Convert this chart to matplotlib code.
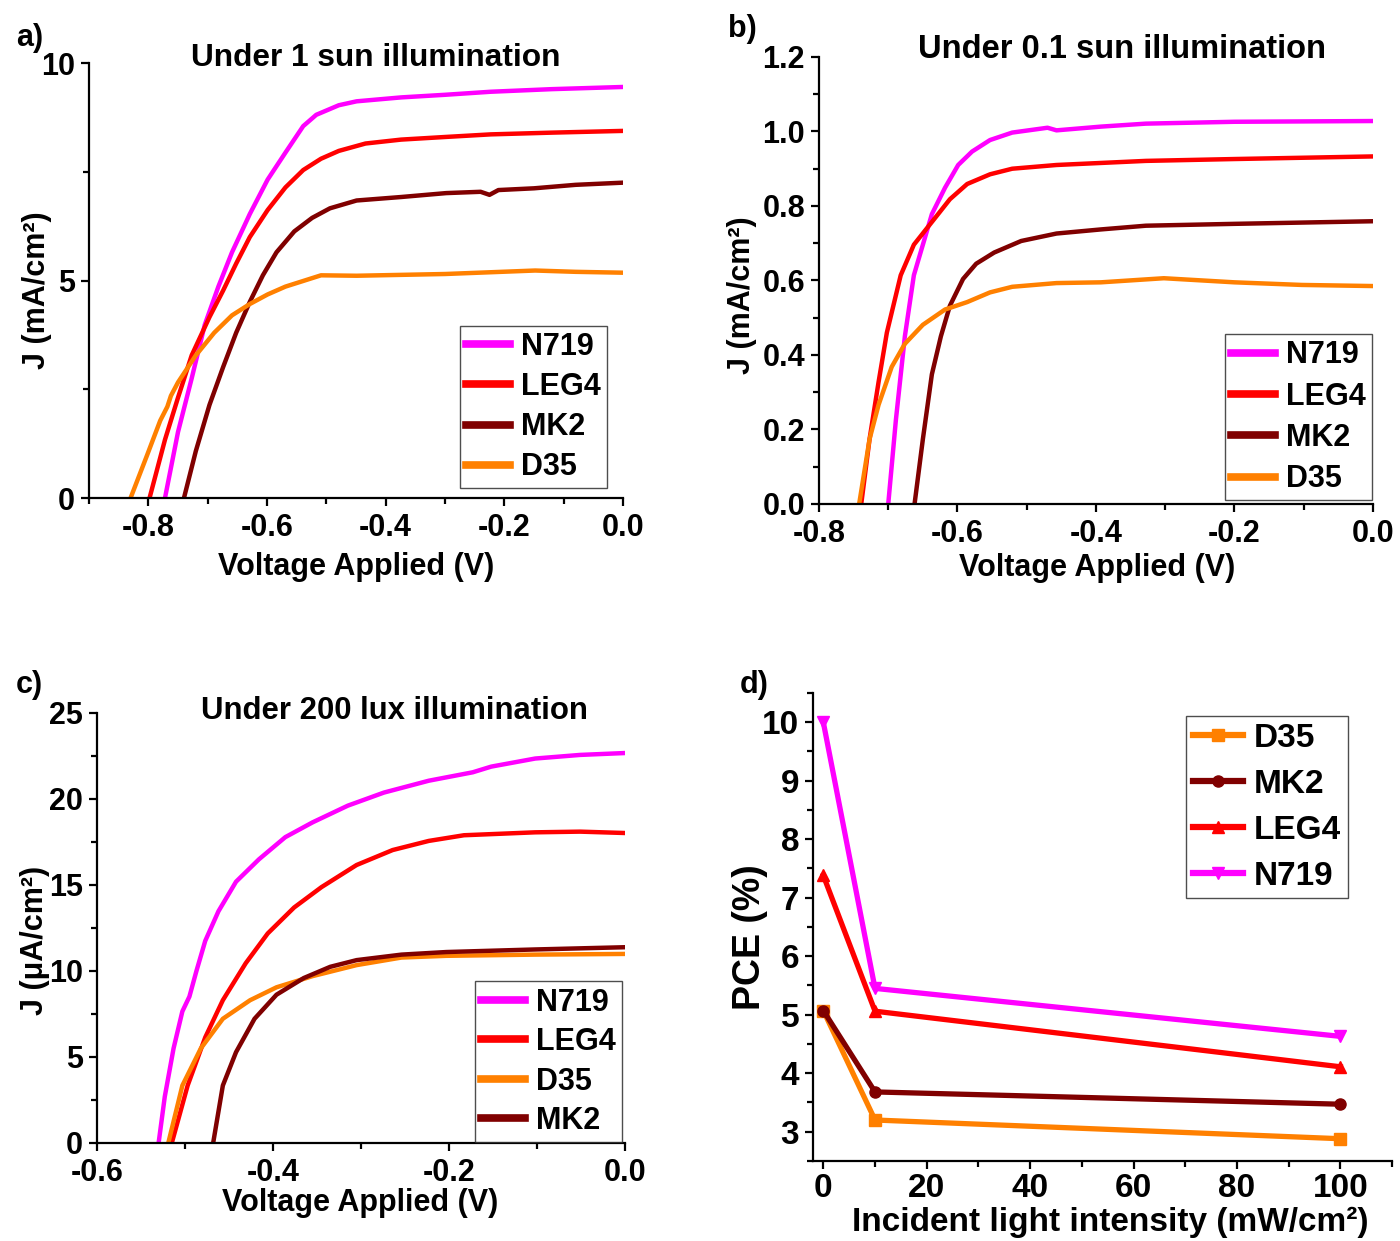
import matplotlib
matplotlib.use("Agg")
import matplotlib.pyplot as plt
from matplotlib.ticker import MultipleLocator

plt.rcParams['font.family'] = ['Liberation Sans', 'DejaVu Sans']
plt.rcParams['font.weight'] = 'bold'
plt.rcParams['axes.unicode_minus'] = False
plt.rcParams['mathtext.default'] = 'bf'

MAGENTA = '#FF00FF'
RED = '#FF0000'
MAROON = '#800000'
ORANGE = '#FF8000'

# ---- a) 1 sun, J in mA/cm2 ----
a_n719_v = [-0.772, -0.750, -0.727, -0.705, -0.682, -0.659, -0.629, -0.599, -0.569, -0.539,
            -0.517, -0.479, -0.449, -0.374, -0.300, -0.223, -0.120, 0.0]
a_n719_j = [0.0, 1.52, 2.75, 3.98, 4.86, 5.65, 6.53, 7.32, 7.94, 8.55,
            8.81, 9.03, 9.12, 9.21, 9.27, 9.34, 9.40, 9.45]
a_leg4_v = [-0.798, -0.772, -0.750, -0.727, -0.697, -0.674, -0.652, -0.629, -0.599, -0.569,
            -0.539, -0.509, -0.479, -0.434, -0.374, -0.300, -0.223, -0.120, 0.0]
a_leg4_j = [0.0, 1.34, 2.31, 3.28, 4.16, 4.77, 5.39, 6.00, 6.62, 7.14,
            7.54, 7.80, 7.98, 8.15, 8.24, 8.30, 8.36, 8.40, 8.44]
a_mk2_v = [-0.740, -0.720, -0.697, -0.674, -0.652, -0.629, -0.607, -0.584, -0.554, -0.524,
           -0.494, -0.449, -0.374, -0.298, -0.240, -0.225, -0.210, -0.150, -0.080, 0.0]
a_mk2_j = [0.0, 1.08, 2.14, 3.01, 3.80, 4.51, 5.12, 5.65, 6.13, 6.44,
           6.66, 6.84, 6.92, 7.01, 7.04, 6.97, 7.08, 7.12, 7.20, 7.25]
a_d35_v = [-0.830, -0.802, -0.780, -0.768, -0.762, -0.750, -0.720, -0.689, -0.659, -0.629,
           -0.599, -0.569, -0.539, -0.509, -0.449, -0.300, -0.148, -0.080, 0.0]
a_d35_j = [0.0, 0.99, 1.78, 2.10, 2.35, 2.66, 3.28, 3.80, 4.20, 4.46,
           4.68, 4.86, 4.99, 5.12, 5.11, 5.15, 5.23, 5.20, 5.18]

# ---- b) 0.1 sun, J in mA/cm2 ----
b_n719_v = [-0.700, -0.689, -0.676, -0.663, -0.650, -0.637, -0.618, -0.599, -0.579, -0.553,
            -0.521, -0.470, -0.457, -0.393, -0.328, -0.200, -0.100, 0.0]
b_n719_j = [0.0, 0.225, 0.450, 0.614, 0.696, 0.778, 0.849, 0.910, 0.946, 0.977,
            0.997, 1.010, 1.003, 1.013, 1.021, 1.026, 1.027, 1.028]
b_leg4_v = [-0.739, -0.727, -0.714, -0.702, -0.682, -0.663, -0.637, -0.611, -0.586, -0.553,
            -0.521, -0.457, -0.328, -0.200, 0.0]
b_leg4_j = [0.0, 0.174, 0.327, 0.460, 0.614, 0.696, 0.757, 0.818, 0.859, 0.885,
            0.900, 0.910, 0.921, 0.926, 0.933]
b_mk2_v = [-0.662, -0.650, -0.637, -0.624, -0.611, -0.592, -0.573, -0.547, -0.508, -0.457,
           -0.393, -0.328, -0.200, 0.0]
b_mk2_j = [0.0, 0.174, 0.348, 0.450, 0.532, 0.604, 0.645, 0.675, 0.706, 0.726,
           0.737, 0.747, 0.752, 0.759]
b_d35_v = [-0.742, -0.727, -0.714, -0.695, -0.676, -0.650, -0.618, -0.586, -0.553, -0.521,
           -0.457, -0.393, -0.302, -0.200, -0.103, 0.0]
b_d35_j = [0.0, 0.174, 0.266, 0.368, 0.430, 0.481, 0.522, 0.542, 0.568, 0.583,
           0.593, 0.595, 0.606, 0.595, 0.588, 0.585]

# ---- c) 200 lux, J in uA/cm2 ----
c_n719_v = [-0.530, -0.523, -0.513, -0.503, -0.495, -0.487, -0.477, -0.462, -0.442, -0.416,
            -0.386, -0.355, -0.315, -0.274, -0.223, -0.173, -0.152, -0.102, -0.051, 0.0]
c_n719_j = [0.0, 2.69, 5.50, 7.65, 8.51, 10.0, 11.75, 13.47, 15.19, 16.49,
            17.78, 18.64, 19.61, 20.37, 21.06, 21.55, 21.88, 22.35, 22.56, 22.67]
c_leg4_v = [-0.515, -0.497, -0.477, -0.457, -0.431, -0.406, -0.376, -0.345, -0.305, -0.264,
            -0.223, -0.183, -0.102, -0.051, 0.0]
c_leg4_j = [0.0, 3.34, 6.14, 8.30, 10.45, 12.18, 13.69, 14.87, 16.16, 17.03,
            17.56, 17.89, 18.06, 18.10, 18.02]
c_d35_v = [-0.519, -0.503, -0.482, -0.457, -0.426, -0.396, -0.355, -0.305, -0.254, -0.203,
           -0.102, 0.0]
c_d35_j = [0.0, 3.34, 5.50, 7.22, 8.30, 9.05, 9.70, 10.34, 10.78, 10.88,
           10.95, 10.99]
c_mk2_v = [-0.468, -0.457, -0.442, -0.421, -0.396, -0.365, -0.335, -0.305, -0.254, -0.203,
           -0.102, 0.0]
c_mk2_j = [0.0, 3.34, 5.28, 7.22, 8.62, 9.59, 10.24, 10.63, 10.95, 11.10,
           11.25, 11.38]

# ---- d) PCE vs light intensity ----
intensity = [0, 10, 100]
pce_d35 = [5.07, 3.20, 2.88]
pce_mk2 = [5.07, 3.68, 3.47]
pce_leg4 = [7.38, 5.06, 4.11]
pce_n719 = [10.0, 5.45, 4.63]

FS = 22


def style(ax, xlim, ylim, xmaj, xmin, ymaj, ymin, yfmt, fs=FS, xpad=5):
    ax.set_xlim(*xlim)
    ax.set_ylim(*ylim)
    for s in ['top', 'right']:
        ax.spines[s].set_visible(False)
    for s in ['left', 'bottom']:
        ax.spines[s].set_linewidth(1.6)
    ax.xaxis.set_major_locator(MultipleLocator(xmaj))
    ax.xaxis.set_minor_locator(MultipleLocator(xmin))
    ax.yaxis.set_major_locator(MultipleLocator(ymaj))
    ax.yaxis.set_minor_locator(MultipleLocator(ymin))
    ax.tick_params(which='major', direction='out', length=6, width=1.6, labelsize=fs)
    ax.tick_params(which='minor', direction='out', length=4, width=1.6)
    ax.tick_params(axis='x', pad=xpad)
    ax.tick_params(axis='y', pad=4)
    ax.yaxis.set_major_formatter(yfmt)
    for lab in ax.get_xticklabels() + ax.get_yticklabels():
        lab.set_fontweight('bold')


def legend(ax, loc, anchor, spacing, lw=5.5, fs=FS, hl=1.45):
    leg = ax.legend(loc=loc, bbox_to_anchor=anchor, borderaxespad=0,
                    frameon=True, fancybox=False, handlelength=hl, handletextpad=0.35,
                    labelspacing=spacing, borderpad=0.2, prop={'weight': 'bold', 'size': fs})
    leg.get_frame().set_edgecolor('#222222')
    leg.get_frame().set_linewidth(1.0)
    for h in leg.get_lines():
        h.set_linewidth(lw)
    return leg


fig = plt.figure(figsize=(14, 12.41), dpi=100)

xfmt1 = lambda v, p: f'{v:.1f}'

# a)
ax = fig.add_axes([0.0636, 0.5987, 0.3814, 0.3505])
ax.plot(a_n719_v, a_n719_j, color=MAGENTA, lw=3.2, label='N719')
ax.plot(a_leg4_v, a_leg4_j, color=RED, lw=3.2, label='LEG4')
ax.plot(a_mk2_v, a_mk2_j, color=MAROON, lw=3.2, label='MK2')
ax.plot(a_d35_v, a_d35_j, color=ORANGE, lw=3.2, label='D35')
style(ax, (-0.9, 0.0), (0, 10), 0.2, 0.1, 5, 2.5, lambda v, p: f'{v:.0f}')
ax.xaxis.set_major_formatter(xfmt1)
ax.set_xlabel('Voltage Applied (V)', fontsize=FS, fontweight='bold')
ax.xaxis.set_label_coords(0.5, -0.124)
ax.set_ylabel('J (mA/cm²)', fontsize=FS, fontweight='bold')
ax.yaxis.set_label_coords(-0.069, 0.478)
ax.text(0.537, 1.011, 'Under 1 sun illumination', transform=ax.transAxes,
        ha='center', va='center', fontsize=22.8, fontweight='bold')
legend(ax, 'lower right', (0.970, 0.022), 0.33)

# b)
ax = fig.add_axes([0.585, 0.5939, 0.3957, 0.3602])
ax.plot(b_n719_v, b_n719_j, color=MAGENTA, lw=3.2, label='N719')
ax.plot(b_leg4_v, b_leg4_j, color=RED, lw=3.2, label='LEG4')
ax.plot(b_mk2_v, b_mk2_j, color=MAROON, lw=3.2, label='MK2')
ax.plot(b_d35_v, b_d35_j, color=ORANGE, lw=3.2, label='D35')
style(ax, (-0.8, 0.0), (0, 1.2), 0.2, 0.1, 0.2, 0.1, lambda v, p: f'{v:.1f}')
ax.xaxis.set_major_formatter(xfmt1)
ax.set_xlabel('Voltage Applied (V)', fontsize=FS, fontweight='bold')
ax.xaxis.set_label_coords(0.502, -0.109)
ax.set_ylabel('J (mA/cm²)', fontsize=FS, fontweight='bold')
ax.yaxis.set_label_coords(-0.112, 0.468)
ax.text(0.547, 1.016, 'Under 0.1 sun illumination', transform=ax.transAxes,
        ha='center', va='center', fontsize=23.5, fontweight='bold')
legend(ax, 'lower right', (0.998, 0.008), 0.37)

# c)
ax = fig.add_axes([0.0693, 0.0790, 0.3771, 0.3465])
ax.plot(c_n719_v, c_n719_j, color=MAGENTA, lw=3.2, label='N719')
ax.plot(c_leg4_v, c_leg4_j, color=RED, lw=3.2, label='LEG4')
ax.plot(c_d35_v, c_d35_j, color=ORANGE, lw=3.2, label='D35')
ax.plot(c_mk2_v, c_mk2_j, color=MAROON, lw=3.2, label='MK2')
style(ax, (-0.6, 0.0), (0, 25), 0.2, 0.1, 5, 2.5, lambda v, p: f'{v:.0f}')
ax.xaxis.set_major_formatter(xfmt1)
ax.set_xlabel('Voltage Applied (V)', fontsize=FS, fontweight='bold')
ax.xaxis.set_label_coords(0.498, -0.104)
ax.set_ylabel('J (μA/cm²)', fontsize=FS, fontweight='bold')
ax.yaxis.set_label_coords(-0.089, 0.472)
ax.text(0.564, 1.005, 'Under 200 lux illumination', transform=ax.transAxes,
        ha='center', va='center', fontsize=22.4, fontweight='bold')
legend(ax, 'lower right', (0.994, 0.002), 0.31)

# d)
FSD = 24
ax = fig.add_axes([0.5807, 0.0645, 0.4136, 0.3771])
ax.plot(intensity, pce_d35, color=ORANGE, lw=3.8, marker='s', ms=8, label='D35')
ax.plot(intensity, pce_mk2, color=MAROON, lw=3.8, marker='o', ms=8, label='MK2')
ax.plot(intensity, pce_leg4, color=RED, lw=3.8, marker='^', ms=9, label='LEG4')
ax.plot(intensity, pce_n719, color=MAGENTA, lw=3.8, marker='v', ms=9, label='N719')
style(ax, (-2, 110), (2.5, 10.5), 20, 10, 1, 0.5, lambda v, p: f'{v:.0f}', fs=FSD, xpad=3)
ax.xaxis.set_major_formatter(lambda v, p: f'{v:.0f}')
ax.set_xlabel('Incident light intensity (mW/cm²)', fontsize=24, fontweight='bold')
ax.xaxis.set_label_coords(0.513, -0.097)
ax.set_ylabel('PCE (%)', fontsize=27, fontweight='bold')
ax.yaxis.set_label_coords(-0.078, 0.479)
legend(ax, 'upper right', (0.924, 0.951), 0.45, lw=4.5, fs=FSD, hl=1.5)

# panel letters
for txt, x, y in [('a)', 0.021, 0.969), ('b)', 0.530, 0.977), ('c)', 0.021, 0.448), ('d)', 0.539, 0.448)]:
    fig.text(x, y, txt, fontsize=FS, fontweight='bold', ha='center', va='center')

fig.savefig('out.png', dpi=100)
